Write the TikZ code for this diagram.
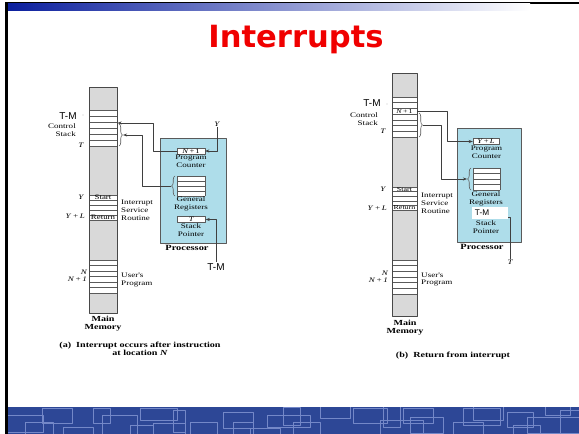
\documentclass[tikz,border=0pt]{standalone}
\usepackage{fontspec}
\setmainfont{Liberation Serif}
\newfontfamily\figfont[FakeStretch=1.3]{Liberation Serif}
\newfontfamily\titlefont{DejaVu Sans}
\newfontfamily\tmfont{Liberation Sans}
\usetikzlibrary{arrows.meta,decorations.pathreplacing}
\definecolor{slideblue}{HTML}{0B1F9E}
\definecolor{bandblue}{HTML}{2D4796}
\definecolor{bandline}{HTML}{7488C8}
\definecolor{memgray}{HTML}{D9D9D9}
\definecolor{procblue}{HTML}{AEDDEA}
\definecolor{edge}{HTML}{5A5A5A}
\definecolor{titlered}{HTML}{F00000}
\tikzset{
  every picture/.style={line join=round, >=Stealth},
  lbl/.style={font=\figfont\fontsize{5.9}{6.7}\selectfont, inner sep=0pt, align=center},
  rowtxt/.style={font=\figfont\fontsize{5.8}{5.8}\selectfont, inner sep=0pt},
  smallrow/.style={font=\figfont\fontsize{5.2}{5.2}\selectfont, inner sep=0pt},
  ital/.style={font=\figfont\itshape\fontsize{5.9}{6.7}\selectfont, inner sep=0.8pt},
  regbox/.style={draw=edge, fill=white, line width=0.5pt, inner sep=0pt,
    minimum width=23.5pt, minimum height=5pt, font=\figfont\fontsize{5.6}{5.6}\selectfont},
  bold/.style={font=\figfont\bfseries\fontsize{6.6}{7}\selectfont, inner sep=0pt, align=center},
  tmlbl/.style={font=\tmfont\fontsize{8.5}{8.5}\selectfont, inner sep=1pt},
  rowline/.style={draw=edge, line width=0.4pt},
  memedge/.style={draw=edge!80!black, line width=0.6pt},
  procedge/.style={draw=edge, line width=0.7pt, fill=procblue},
  conn/.style={draw=edge!70!black, line width=0.5pt},
  tip/.style={-{Stealth[length=3.5pt,width=2.6pt]}},
  curly/.style={decorate, decoration={brace, amplitude=3pt}, draw=edge, line width=0.5pt},
}
\begin{document}
\begin{tikzpicture}[x=0.85pt,y=-0.85pt]
\useasboundingbox (0,0) rectangle (579,434);
% slide frame
\fill[white] (0,0) rectangle (579,434);
\fill[black] (5,2) rectangle (579,4);
\fill[black] (5,2) rectangle (8,434);
\shade[left color=slideblue,right color=white] (8,4) rectangle (530,11);
\fill[bandblue] (8,407) rectangle (579,434);
\begin{scope}
  \clip (8,407) rectangle (579,434);
  \foreach \a/\b/\c/\d in {7/415/43/432, 25/422/53/440, 42/408/72/423, 63/427/93/440,
      93/408/110/423, 102/415/137/440, 130/425/153/440, 140/408/177/420, 153/423/185/440,
      173/410/185/432, 190/422/217/440, 223/412/253/428, 233/422/253/440, 250/428/280/440,
      267/415/310/427, 283/407/300/425, 293/422/320/440, 320/405/350/418, 353/408/387/423,
      380/420/423/440, 383/405/400/427, 403/408/433/423, 410/417/443/433, 453/422/483/440,
      463/408/500/425, 473/405/503/420, 507/412/533/427, 513/425/540/440, 527/417/579/433,
      545/405/570/415, 560/410/579/440}
    \draw[bandline,line width=0.7pt] (\a,\b) rectangle (\c,\d);
\end{scope}
\node[font=\titlefont\bfseries\fontsize{26}{26}\selectfont, text=titlered, inner sep=0pt] (title) at (296,40) {Interrupts};

% (a) main memory
\fill[memgray] (89,87) rectangle (117,313);
\fill[white] (89,110) rectangle (117,146);
\fill[white] (89,195) rectangle (117,220);
\fill[white] (89,260) rectangle (117,293);
\foreach \i in {0,...,6} \draw[rowline] (89,{110+6*\i}) -- (117,{110+6*\i});
\foreach \i in {0,...,5} \draw[rowline] (89,{195+5*\i}) -- (117,{195+5*\i});
\foreach \i in {0,...,6} \draw[rowline] (89,{260+5.5*\i}) -- (117,{260+5.5*\i});
\draw[memedge] (89,87) rectangle (117,313);
\node[rowtxt] (startA) at (103,197.6) {Start};
\node[rowtxt] (returnA) at (103,217.6) {Return};
\node[tmlbl] (tmtopA) at (68,116) {T-M};
\fill[edge] (83,115) circle (0.4);
\node[lbl, align=right, anchor=east] (ctlA) at (76,130.5) {Control\\Stack};
\node[ital] (tA) at (81,145) {T};
\node[ital] (yadrA) at (81,197) {Y};
\node[ital, anchor=east] (ylA) at (86,216.5) {Y\/\,+\,L};
\node[ital, anchor=east] (nA) at (88,272) {N};
\node[ital, anchor=east] (n1A) at (88,279) {N\,+\,1};
\node[lbl, align=left, anchor=west] (isrA) at (121,210) {Interrupt\\Service\\Routine};
\node[lbl, align=left, anchor=west] (userA) at (121,280) {User's\\Program};
\node[bold] (memA) at (103,324) {Main\\Memory};
\node[bold] (capA) at (140,348.5) {(a)\ \ Interrupt occurs after instruction\\at location \textit{N}};
\draw[curly] (119,124) -- (119,146);
\coordinate (braceA) at (123,135);
\coordinate (stkA) at (117.5,123);

% (a) processor
\draw[procedge] (160,138) rectangle (226,243);
\node[regbox] (pcA) at (191,151) {\textit{N}\,+\,1};
\node[lbl] (pclA) at (191,161.5) {Program\\Counter};
\fill[white] (177,176) rectangle (205,196);
\foreach \i in {0,...,4} \draw[rowline] (177,{176+5*\i}) -- (205,{176+5*\i});
\draw[rowline] (177,176) -- (177,196) (205,176) -- (205,196);
\draw[curly] (175,196) -- (175,176);
\coordinate (grA) at (171,186);
\node[lbl] (grlA) at (191,203.5) {General\\Registers};
\node[regbox] (spA) at (191.5,219.5) {\textit{T}};
\node[lbl] (splA) at (191,230.5) {Stack\\Pointer};
\node[bold, font=\figfont\bfseries\fontsize{6.8}{6.8}\selectfont] (procA) at (187,248) {Processor};
\node[ital] (yinA) at (217,124) {Y};
\node[tmlbl] (tminA) at (216,267) {T-M};
\coordinate (bendA) at (153,123);
\coordinate (bendB) at (142,135);
\draw[conn,tip] (yinA.south) |- (pcA.east);
\draw[conn,tip] (tminA.north) |- (spA.east);
\draw[conn,tip] (pcA.west) -| (bendA) -- (stkA);
\draw[conn,tip] (grA) -| (bendB) -- (braceA);

% (b) main memory
\fill[memgray] (392,73) rectangle (417,316);
\fill[white] (392,97) rectangle (417,137);
\fill[white] (392,187) rectangle (417,210);
\fill[white] (392,260) rectangle (417,294);
\foreach \i in {0,...,7} \draw[rowline] (392,{97+5.714*\i}) -- (417,{97+5.714*\i});
\foreach \i in {0,...,5} \draw[rowline] (392,{187+4.6*\i}) -- (417,{187+4.6*\i});
\foreach \i in {0,...,6} \draw[rowline] (392,{260+5.667*\i}) -- (417,{260+5.667*\i});
\draw[memedge] (392,73) rectangle (417,316);
\node[smallrow, minimum width=21.25pt] (npB) at (404.5,111.3) {\textit{N}\,+\,1};
\node[smallrow] (startB) at (404.5,189.3) {Start};
\node[smallrow] (returnB) at (404.5,207.7) {Return};
\node[tmlbl] (tmtopB) at (372,103) {T-M};
\fill[edge] (387,104) circle (0.4);
\node[lbl, align=right, anchor=east] (ctlB) at (378,119.5) {Control\\Stack};
\node[ital] (tB) at (383,131) {T};
\node[ital] (yadrB) at (383,189) {Y};
\node[ital, anchor=east] (ylB) at (388,208) {Y\/\,+\,L};
\node[ital, anchor=east] (nB) at (389,273) {N};
\node[ital, anchor=east] (n1B) at (389,280) {N\,+\,1};
\node[lbl, align=left, anchor=west] (isrB) at (421,203.5) {Interrupt\\Service\\Routine};
\node[lbl, align=left, anchor=west] (userB) at (421,279.5) {User's\\Program};
\node[bold] (memB) at (405,328) {Main\\Memory};
\node[bold] (capB) at (453,356) {(b)\ \ Return from interrupt};
\draw[curly] (419,113) -- (419,137);
\coordinate (braceB) at (423,125);

% (b) processor
\draw[procedge] (457,128) rectangle (521,242);
\node[regbox, minimum width=22pt] (pcB) at (486,141.5) {\textit{Y}\/\,+\,\textit{L}};
\node[lbl] (pclB) at (486.5,152.5) {Program\\Counter};
\fill[white] (473,168) rectangle (500,190);
\foreach \i in {0,...,4} \draw[rowline] (473,{168+5.5*\i}) -- (500,{168+5.5*\i});
\draw[rowline] (473,168) -- (473,190) (500,168) -- (500,190);
\draw[curly] (471,190) -- (471,168);
\coordinate (grB) at (467,179);
\node[lbl] (grlB) at (486,198.5) {General\\Registers};
\node[fill=white, inner xsep=2.5pt, inner ysep=0pt, text width=25.6pt, minimum height=10.2pt,
  align=left, font=\tmfont\fontsize{7}{7}\selectfont] (spB) at (490,213) {T-M};
\node[lbl] (splB) at (486,227.5) {Stack\\Pointer};
\node[bold, font=\figfont\bfseries\fontsize{6.8}{6.8}\selectfont] (procB) at (482,247) {Processor};
\node[ital] (tinB) at (510,262) {T};
\coordinate (bendC) at (447,0);
\coordinate (bendD) at (441,0);
\draw[conn] (tinB.north) |- ([yshift=1.7pt]spB.south east);
\draw[conn,tip] (npB.east) -| (bendC |- pcB.west) -- (pcB.west);
\draw[conn,tip] (braceB) -| (bendD |- grB) -- (grB);
\end{tikzpicture}
\end{document}
